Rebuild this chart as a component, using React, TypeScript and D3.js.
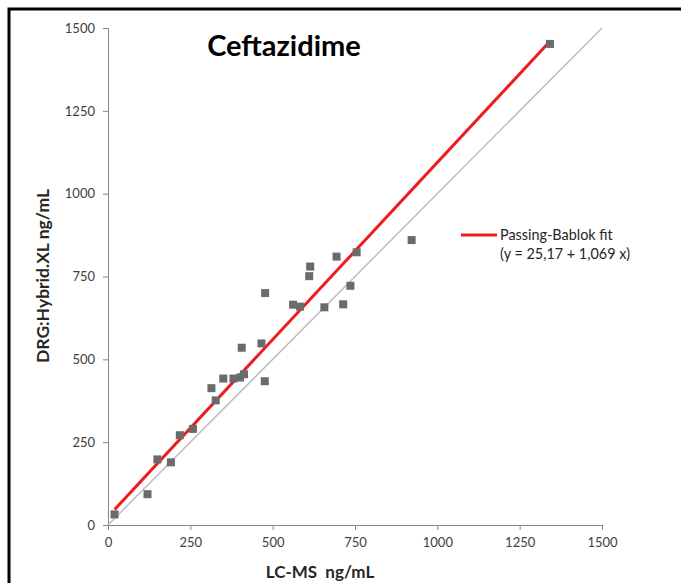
import { useEffect, useRef } from "react";
import * as d3 from "d3";

// LC-MS (x) vs DRG:Hybrid.XL (y), ng/mL
const lcms = [20, 120, 150, 191, 218, 258, 314, 327, 350, 381, 401, 413, 406, 466, 476, 477, 562, 583, 611, 614, 657, 694, 714, 736, 755, 922, 1342];
const drg = [32, 93, 198, 189, 271, 290, 413, 376, 442, 442, 445, 455, 535, 548, 434, 700, 665, 659, 751, 780, 657, 810, 666, 722, 823, 860, 1452];
const ticks = [0, 250, 500, 750, 1000, 1250, 1500];
const fitIntercept = 25.17;
const fitSlope = 1.069;
const fitRange = [20, 1342];
const legendLines = ["Passing-Bablok fit", "(y = 25,17 + 1,069 x)"];

const W = 681;
const H = 583;
const FONT = "Lato, 'Open Sans', sans-serif";

export default function App() {
    const svgRef = useRef<SVGSVGElement>(null);

    useEffect(() => {
        const svg = d3.select(svgRef.current);
        svg.selectAll("*").remove();

        const x = d3.scaleLinear().domain([0, 1500]).range([108, 602]);
        const y = d3.scaleLinear().domain([0, 1500]).range([525, 28]);

        // outer frame (top + left only visible)
        svg.append("path")
            .attr("d", `M9,${H} L9,9 L${W},9`)
            .attr("fill", "none")
            .attr("stroke", "#000")
            .attr("stroke-width", 3);

        // axes
        const xAxis = d3.axisBottom(x).tickValues(ticks).tickSize(5).tickPadding(8).tickFormat(d3.format("d"));
        const yAxis = d3.axisLeft(y).tickValues(ticks).tickSize(5).tickPadding(8).tickFormat(d3.format("d"));

        const gx = svg.append("g").attr("transform", "translate(0,525)").call(xAxis);
        const gy = svg.append("g").attr("transform", "translate(108,0)").call(yAxis);
        [gx, gy].forEach((g) => {
            g.select(".domain").attr("stroke", "#868686");
            g.selectAll(".tick line").attr("stroke", "#868686");
            g.selectAll(".tick text")
                .attr("fill", "#404040")
                .style("font-family", FONT)
                .style("font-size", "13px");
        });

        // identity line
        svg.append("line")
            .attr("x1", x(0)).attr("y1", y(0))
            .attr("x2", x(1500)).attr("y2", y(1500))
            .attr("stroke", "#bdbdbd")
            .attr("stroke-width", 1.5);

        // fit line
        svg.append("line")
            .attr("x1", x(fitRange[0])).attr("y1", y(fitIntercept + fitSlope * fitRange[0]))
            .attr("x2", x(fitRange[1])).attr("y2", y(fitIntercept + fitSlope * fitRange[1]))
            .attr("stroke", "#ee1c1c")
            .attr("stroke-width", 3);

        // points
        const pts = lcms.map((v, i) => [v, drg[i]]);
        svg.append("g")
            .selectAll("rect")
            .data(pts)
            .join("rect")
            .attr("x", (d) => x(d[0]) - 4)
            .attr("y", (d) => y(d[1]) - 4)
            .attr("width", 8)
            .attr("height", 8)
            .attr("fill", "#6b6b6b");

        // title
        svg.append("text")
            .attr("x", 284).attr("y", 56)
            .attr("text-anchor", "middle")
            .style("font-family", FONT)
            .style("font-weight", "bold")
            .style("font-size", "29px")
            .text("Ceftazidime");

        // axis titles
        svg.append("text")
            .attr("x", 320).attr("y", 578)
            .attr("text-anchor", "middle")
            .style("font-family", FONT)
            .style("font-weight", "bold")
            .style("font-size", "17px")
            .attr("fill", "#262626")
            .style("white-space", "pre")
            .text("LC-MS  ng/mL");

        svg.append("text")
            .attr("transform", "translate(49,276) rotate(-90)")
            .attr("text-anchor", "middle")
            .style("font-family", FONT)
            .style("font-weight", "bold")
            .style("font-size", "17.5px")
            .attr("fill", "#262626")
            .text("DRG:Hybrid.XL ng/mL");

        // legend
        svg.append("line")
            .attr("x1", 461).attr("x2", 497)
            .attr("y1", 235).attr("y2", 235)
            .attr("stroke", "#ee1c1c")
            .attr("stroke-width", 3);
        svg.append("g")
            .selectAll("text")
            .data(legendLines)
            .join("text")
            .attr("x", 500)
            .attr("y", (d, i) => 240 + i * 19)
            .attr("fill", "#262626")
            .style("font-family", FONT)
            .style("font-size", "14.4px")
            .text((d) => d);
    }, []);

    return (
        <svg
            ref={svgRef}
            width={W}
            height={H}
            style={{ position: "absolute", left: 0, top: 0, background: "#fff" }}
        ></svg>
    );
}
